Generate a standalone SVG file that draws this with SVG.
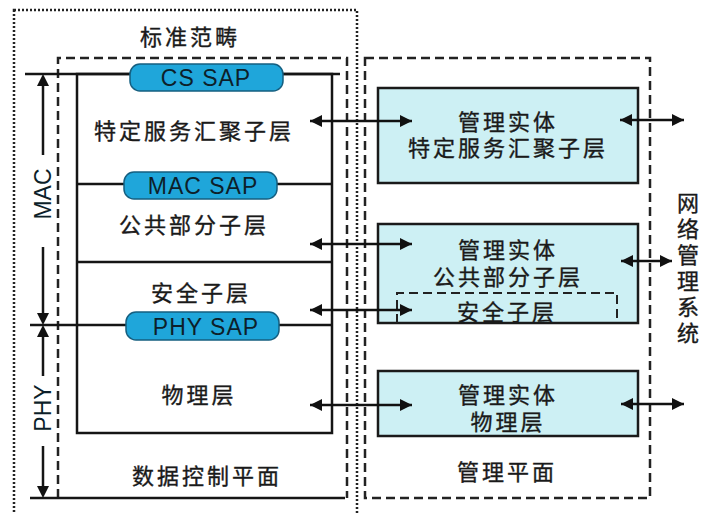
<svg xmlns="http://www.w3.org/2000/svg" width="703" height="513" viewBox="0 0 703 513">
<defs>
<style>
.cn{font-family:"Noto Sans CJK SC","Liberation Sans",sans-serif;font-size:22px;fill:#1a1a1a;text-anchor:middle;letter-spacing:3px;stroke:#1a1a1a;stroke-width:0.35px}
.en{font-family:"Liberation Sans",Arial,sans-serif;font-size:23px;fill:#0d1f2a;text-anchor:middle;letter-spacing:1px}
.dot{fill:none;stroke:#222;stroke-width:2.5;stroke-dasharray:2 2}
.dash{fill:none;stroke:#222;stroke-width:2.5;stroke-dasharray:9 5}
.ln{stroke:#151515;stroke-width:2.5;fill:none}
.pill{fill:#1fa6da;stroke:#155f80;stroke-width:1.5}
.box{fill:#cdf0f4;stroke:#1a1a1a;stroke-width:2.5}
.con{stroke:#111;stroke-width:2.5;fill:none;marker-start:url(#ah);marker-end:url(#ah)}
</style>
<marker id="ah" viewBox="0 0 12 12" refX="12" refY="6" markerWidth="12" markerHeight="12" markerUnits="userSpaceOnUse" orient="auto-start-reverse">
<path d="M0,0 L12,6 L0,12 Z" fill="#111"/>
</marker>
</defs>
<rect width="703" height="513" fill="#ffffff"/>

<g id="standard-scope">
<rect class="dot" x="14" y="10" width="343" height="510"/>
<text class="cn" x="190" y="45">标准范畴</text>
</g>

<g id="data-control-plane">
<polyline class="dash" points="58,498 58,58 347,58 347,498"/>
<line class="ln" x1="30" y1="498" x2="345" y2="498"/>
<text class="cn" x="207" y="484">数据控制平面</text>
</g>

<g id="mac-range">
<line class="ln" x1="43" y1="155" x2="43" y2="86"/>
<path d="M37,86 L43,74 L49,86 Z" fill="#111"/>
<line class="ln" x1="43" y1="247" x2="43" y2="313"/>
<path d="M37,313 L43,325 L49,313 Z" fill="#111"/>
<text class="en" x="0" y="0" transform="translate(51,194) rotate(-90)" style="letter-spacing:0">MAC</text>
</g>

<g id="phy-range">
<line class="ln" x1="43" y1="337" x2="43" y2="376"/>
<path d="M37,337 L43,325 L49,337 Z" fill="#111"/>
<line class="ln" x1="43" y1="446" x2="43" y2="486"/>
<path d="M37,486 L43,498 L49,486 Z" fill="#111"/>
<text class="en" x="0" y="0" transform="translate(51,408) rotate(-90)" style="letter-spacing:0">PHY</text>
</g>

<g id="protocol-stack">
<line class="ln" x1="25" y1="74" x2="340" y2="74"/>
<rect class="ln" x="77" y="74" width="255" height="359"/>
<line class="ln" x1="77" y1="184" x2="332" y2="184"/>
<line class="ln" x1="77" y1="262" x2="332" y2="262"/>
<line class="ln" x1="30" y1="325" x2="332" y2="325"/>
</g>

<g id="cs-sap">
<rect class="pill" x="130" y="64" width="153" height="27" rx="10"/>
<text class="en" x="206" y="86">CS SAP</text>
</g>
<g id="cs-sublayer">
<text class="cn" x="194" y="139">特定服务汇聚子层</text>
</g>
<g id="mac-sap">
<rect class="pill" x="124" y="172" width="153" height="27" rx="10"/>
<text class="en" x="203" y="194">MAC SAP</text>
</g>
<g id="common-part-sublayer">
<text class="cn" x="194" y="233">公共部分子层</text>
</g>
<g id="security-sublayer">
<text class="cn" x="201" y="301">安全子层</text>
</g>
<g id="phy-sap">
<rect class="pill" x="126" y="312" width="153" height="28" rx="10"/>
<text class="en" x="206" y="335">PHY SAP</text>
</g>
<g id="phy-layer">
<text class="cn" x="199" y="403">物理层</text>
</g>

<g id="management-plane">
<rect class="dash" x="365" y="58" width="285" height="440"/>
<text class="cn" x="507" y="480">管理平面</text>
</g>

<g id="me-cs">
<rect class="box" x="378" y="88" width="260" height="95"/>
<text class="cn"><tspan x="508" y="130">管理实体</tspan><tspan x="508" y="156">特定服务汇聚子层</tspan></text>
</g>

<g id="me-cps">
<rect class="box" x="378" y="224" width="260" height="99"/>
<text class="cn"><tspan x="508" y="258">管理实体</tspan><tspan x="508" y="285">公共部分子层</tspan></text>
<polyline class="dash" points="397,323 397,293 617,293 617,323" style="stroke-width:2"/>
<text class="cn" x="507" y="320">安全子层</text>
</g>

<g id="me-phy">
<rect class="box" x="378" y="371" width="260" height="65"/>
<text class="cn"><tspan x="508" y="403">管理实体</tspan><tspan x="508" y="430">物理层</tspan></text>
</g>

<g id="nms">
<text class="cn" x="688" y="192" style="writing-mode:vertical-rl;text-anchor:start;letter-spacing:4px">网络管理系统</text>
</g>

<g id="connectors">
<line class="con" x1="310" y1="121" x2="412" y2="121"/>
<line class="con" x1="310" y1="244" x2="412" y2="244"/>
<line class="con" x1="310" y1="310" x2="412" y2="310"/>
<line class="con" x1="310" y1="405" x2="412" y2="405"/>
<line class="con" x1="620" y1="120" x2="684" y2="120"/>
<line class="con" x1="621" y1="261" x2="672" y2="261"/>
<line class="con" x1="621" y1="404" x2="684" y2="404"/>
</g>
</svg>
